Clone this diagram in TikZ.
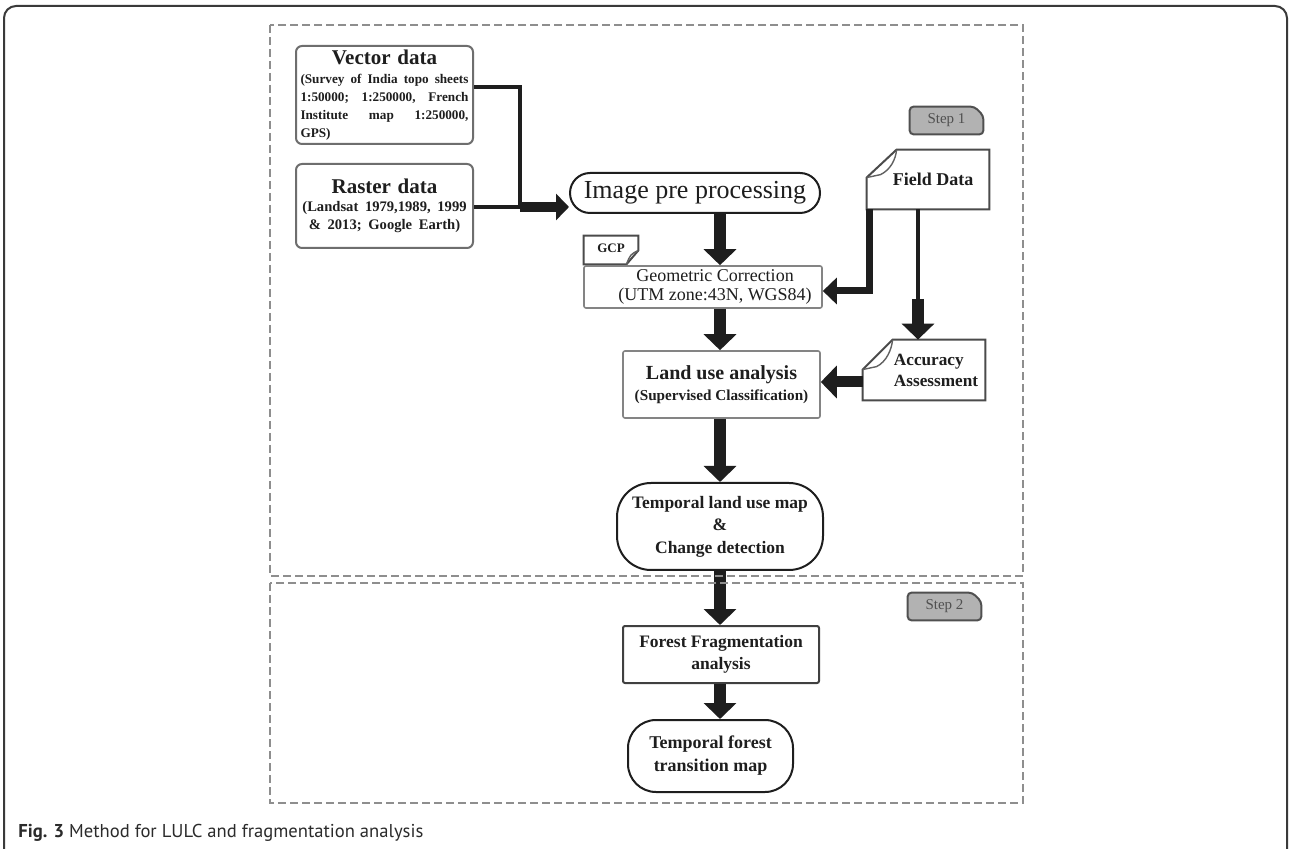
\documentclass[tikz,border=0pt]{standalone}
\usepackage{fontspec}
\setmainfont{Liberation Serif}
\newfontfamily\capfont{PT Sans}
\usepackage{graphicx}
\usetikzlibrary{arrows.meta,calc,backgrounds}
\definecolor{ink}{HTML}{1E1E1E}
\definecolor{boxgray}{HTML}{6E6E6E}
\definecolor{dashgray}{HTML}{8E8E8E}
\definecolor{taggray}{HTML}{B2B2B2}
\definecolor{tagtext}{HTML}{505050}
\definecolor{capink}{HTML}{2B2B2B}
\definecolor{framec}{HTML}{3A3A3A}
\newcommand{\jline}[1]{\makebox[84pt][l]{#1}\par}
\tikzset{
  nbox/.style={inner sep=0pt, align=center, text=ink},
  roundbox/.style={nbox, draw=boxgray, line width=1pt, rounded corners=3pt},
  flatbox/.style={nbox, draw=boxgray!85, line width=0.8pt, rounded corners=1pt},
  darkbox/.style={nbox, draw=ink!85, line width=1pt, rounded corners=1pt},
  stadium/.style={nbox, draw=ink, line width=1pt},
  docnode/.style={nbox},
  docline/.style={draw=ink!80, line width=1pt, fill=white},
  foldline/.style={draw=ink!70, line width=0.7pt},
  tagshape/.style={fill=taggray, draw=tagtext, line width=1pt, rounded corners=2pt},
  link/.style={draw=ink, line width=2pt},
  bigarrow/.style={draw=ink, line width=6pt, -{Triangle[width=16pt,length=8pt]}},
  inarrow/.style={draw=ink, line width=5pt, -{Triangle[width=13pt,length=6.5pt]}},
  medarrow/.style={draw=ink, line width=3.5pt, line join=miter, -{Triangle[width=13pt,length=7pt]}},
  dashbox/.style={draw=dashgray, line width=1pt, dash pattern=on 4pt off 2pt},
}
\begin{document}
\begin{tikzpicture}[x=0.5pt,y=-0.5pt]
\useasboundingbox (0,0) rectangle (1290,849);

% outer frame
\draw[framec, line width=1pt, rounded corners=6pt] (4,866) -- (4,6) -- (1287,6) -- (1287,866);

% nodes
\node[roundbox, minimum width=88.5pt, minimum height=49pt, text width=84pt] (vec) at (384.5,95) {%
{\fontsize{10.5pt}{11pt}\selectfont\bfseries Vector data\par}%
\vspace{0.5pt}%
{\fontsize{6.6pt}{9pt}\selectfont\bfseries
\jline{(Survey\hfill of\hfill India\hfill topo\hfill sheets}
\jline{1:50000;\hfill 1:250000,\hfill French}
\jline{Institute\hfill map\hfill 1:250000,}
\jline{GPS)}}};

\node[roundbox, minimum width=88.5pt, minimum height=42pt, text width=86pt] (ras) at (384.5,206) {%
{\fontsize{10.5pt}{11pt}\selectfont\bfseries Raster data\par}%
{\fontsize{7.3pt}{9pt}\selectfont\bfseries (Landsat 1979,1989, 1999\par \& 2013; Google Earth)\par}};

\node[stadium, rounded corners=10pt, minimum width=125pt, minimum height=20pt,
      font=\fontsize{13pt}{13pt}\selectfont] (img) at (695,193) {Image pre processing};

\node[docnode, minimum width=27pt, minimum height=14pt,
      font=\bfseries\fontsize{6.5pt}{7pt}\selectfont] (gcp) at (611,250) {\raisebox{1.5pt}{GCP}};

\node[flatbox, minimum width=119pt, minimum height=21pt,
      font=\fontsize{9pt}{9.5pt}\selectfont] (geo) at (703,287)
      {\hspace*{12pt}Geometric Correction\\\hspace*{12pt}(UTM zone:43N, WGS84)};

\node[flatbox, minimum width=98.5pt, minimum height=33.5pt,
      font=\bfseries\fontsize{10pt}{10.5pt}\selectfont] (land) at (721.5,384.5)
      {Land use analysis\\{\fontsize{7.6pt}{9pt}\selectfont (Supervised Classification)}};

\node[stadium, rounded corners=17pt, minimum width=103pt, minimum height=43.5pt,
      font=\bfseries\fontsize{8.75pt}{11.25pt}\selectfont] (tlu) at (720,526.5)
      {Temporal land use map\\\&\\Change detection};

\node[darkbox, minimum width=98pt, minimum height=28.5pt,
      font=\bfseries\fontsize{8.75pt}{11pt}\selectfont] (ffa) at (721,654.5)
      {Forest Fragmentation\\analysis};

\node[stadium, rounded corners=14pt, minimum width=82.5pt, minimum height=36pt,
      font=\bfseries\fontsize{9pt}{11.5pt}\selectfont] (tfm) at (710.5,756)
      {Temporal forest\\transition map};

\node[docnode, minimum width=61pt, minimum height=29.5pt,
      font=\bfseries\fontsize{9pt}{10pt}\selectfont] (field) at (928,179.5) {\hspace*{5pt}Field Data};

\node[docnode, minimum width=61pt, minimum height=30pt, align=left,
      font=\bfseries\fontsize{8.6pt}{10.5pt}\selectfont] (acc) at (924,370)
      {\hspace*{12pt}Accuracy\\\hspace*{12pt}Assessment};

\node[nbox, minimum width=36.5pt, minimum height=13.5pt, text=tagtext,
      font=\fontsize{7.5pt}{8pt}\selectfont] (s1) at (946.5,120.5) {Step 1};
\node[nbox, minimum width=36.5pt, minimum height=13.5pt, text=tagtext,
      font=\fontsize{7.5pt}{8pt}\selectfont] (s2) at (944.5,606.5) {Step 2};

% background shapes
\begin{pgfonlayer}{background}
\fill[white] (0,0) rectangle (1290,849);
\filldraw[docline] ($(field.north west)+(30,0)$) -- (field.north east) -- (field.south east)
   -- (field.south west) -- ($(field.north west)+(0,28)$) -- cycle;
\draw[foldline] ($(field.north west)+(0,28)$) -- ($(field.north west)+(14,25)$)
   .. controls ($(field.north west)+(24,20)$) and ($(field.north west)+(29,10)$) .. ($(field.north west)+(30,0)$);
\filldraw[docline] ($(acc.north west)+(30,0)$) -- (acc.north east) -- (acc.south east)
   -- (acc.south west) -- ($(acc.north west)+(0,30)$) -- cycle;
\draw[foldline] ($(acc.north west)+(0,30)$) -- ($(acc.north west)+(14,27)$)
   .. controls ($(acc.north west)+(24,22)$) and ($(acc.north west)+(29,10)$) .. ($(acc.north west)+(30,0)$);
\filldraw[docline] (gcp.north west) -- (gcp.north east) -- ($(gcp.south east)+(0,-14)$)
   -- ($(gcp.south east)+(-12,0)$) -- (gcp.south west) -- cycle;
\draw[foldline] ($(gcp.south east)+(-12,0)$) .. controls ($(gcp.south east)+(-8,-10)$) .. ($(gcp.south east)+(0,-14)$);
\filldraw[tagshape] (s1.south west) -- (s1.north west) -- ($(s1.north east)+(-9,0)$)
   -- ($(s1.north east)+(0,9)$) -- (s1.south east) -- cycle;
\filldraw[tagshape] (s2.south west) -- (s2.north west) -- ($(s2.north east)+(-9,0)$)
   -- ($(s2.north east)+(0,9)$) -- (s2.south east) -- cycle;
\end{pgfonlayer}

% connectors
\coordinate (j1) at (520,87);
\coordinate (j2) at (520,207);
\coordinate (colx) at (720,0);
\coordinate (fg) at (869,291);
\coordinate (fa) at (918,300);
\coordinate (al) at (0,382);

\draw[link] (vec.east |- j1) -- (j1) -- (j2);
\draw[link] (ras.east |- j2) -- (j2);
\draw[inarrow] (j2) -- (img.west |- j2);
\draw[bigarrow] (colx |- img.south) -- (colx |- geo.north);
\draw[bigarrow] (colx |- geo.south) -- (colx |- land.north);
\draw[bigarrow] (colx |- land.south) -- (colx |- tlu.north);
\draw[bigarrow] (colx |- tlu.south) -- (colx |- ffa.north);
\draw[bigarrow] (colx |- ffa.south) -- (colx |- tfm.north);
\draw[medarrow] (field.south west -| fg) -- (fg) -- (geo.east |- fg);
\draw[link] (field.south -| fa) -- (fa);
\draw[bigarrow] ($(fa)+(0,-1)$) -- (acc.north -| fa);
\draw[bigarrow, line width=5.5pt] (acc.west |- al) -- (land.east |- al);

% step containers
\draw[dashbox] (270,25) rectangle (1023,576);
\draw[dashbox] (270,583) rectangle (1023,803);

% caption
\node[anchor=base west, inner sep=0pt, text=capink,
      font=\capfont\fontsize{9.3pt}{11pt}\selectfont] (cap) at (18,837)
  {\textbf{Fig. 3} Method for LULC and fragmentation analysis};
\end{tikzpicture}
\end{document}
